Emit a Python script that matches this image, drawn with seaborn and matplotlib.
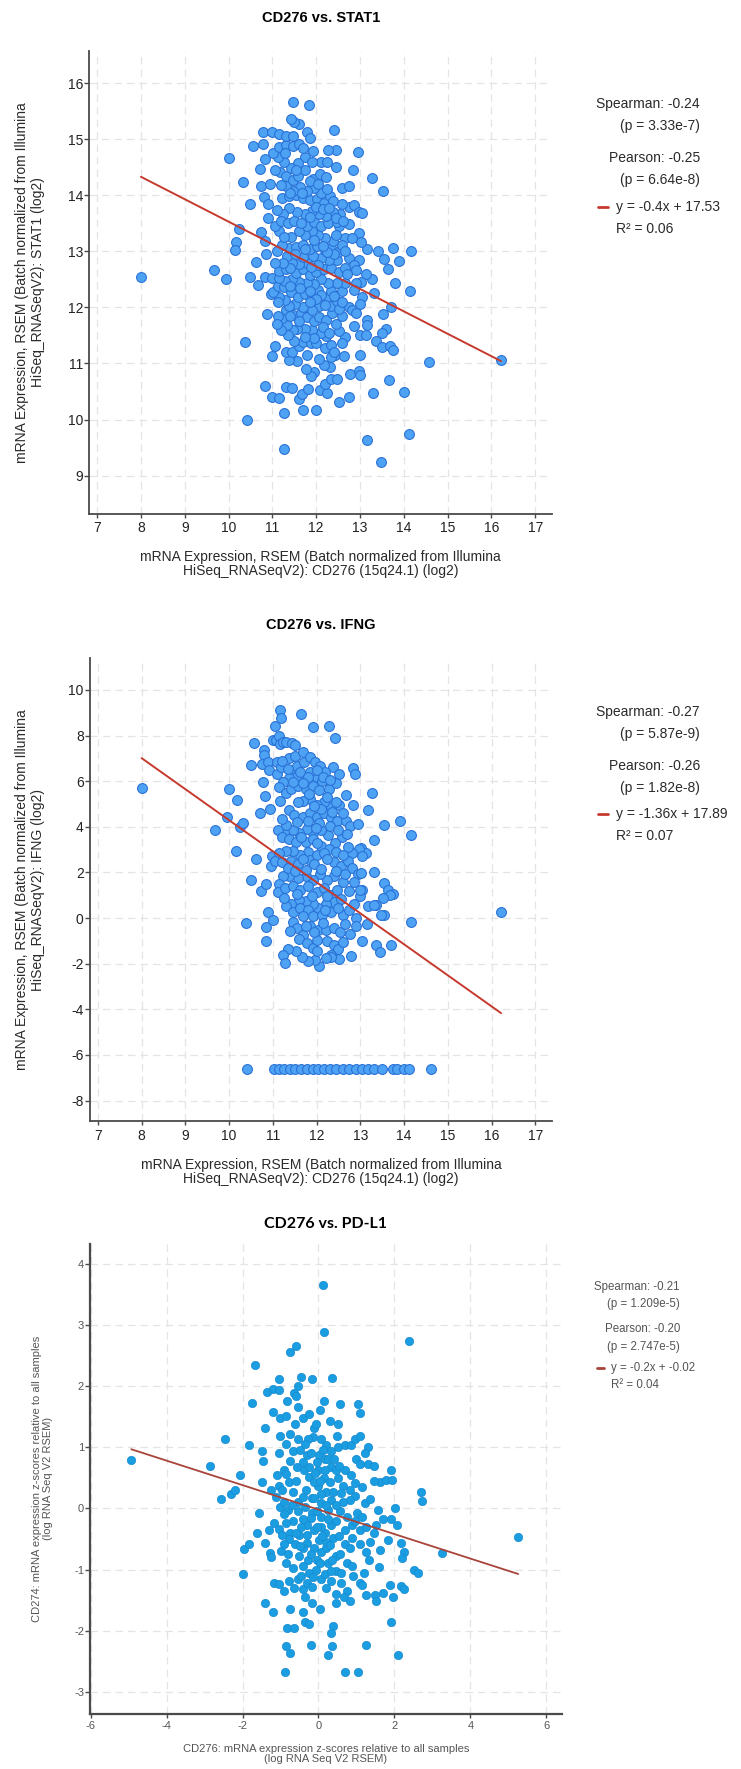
import numpy as np
import pandas as pd
import seaborn as sns
import matplotlib.pyplot as plt
from matplotlib.lines import Line2D

sns.set_style("white")
plt.rcParams['font.family'] = ['Liberation Sans', 'DejaVu Sans']
plt.rcParams['axes.unicode_minus'] = False

# ---------------- data ----------------
# CD276 vs STAT1  (x, y)
stat1_pts = [
    (8.00,12.55),(9.66,12.67),(9.93,12.50),(10.00,14.66),(10.32,14.23),(10.24,13.40),(10.18,13.17),(10.15,13.03),
    (10.50,13.84),(10.62,12.81),(10.50,12.55),(10.67,12.40),(10.37,11.38),(10.41,10.00),(10.56,14.88),(10.79,15.13),
    (10.78,14.92),(10.71,14.47),(10.75,14.17),(10.82,14.65),(10.81,13.97),(10.91,13.84),(10.75,13.35),(10.82,13.18),
    (10.86,12.95),(10.82,12.55),(10.98,12.53),(10.96,12.24),(10.88,11.88),(11.07,11.31),(11.00,11.13),(10.83,10.59),
    (11.00,10.40),(11.26,10.12),(11.27,9.48),(11.16,10.39),(11.30,10.58),(11.44,10.57),(11.60,10.36),(11.69,10.17),
    (11.67,10.46),(11.81,10.54),(12.00,10.17),(12.09,10.52),(12.24,10.48),(12.51,10.31),(12.76,10.40),(12.19,10.64),
    (12.34,10.73),(12.48,10.73),(12.78,10.81),(12.97,10.87),(13.00,10.79),(13.30,10.48),(13.15,9.64),(13.47,9.25),
    (13.67,10.71),(14.00,10.49),(14.11,9.74),(14.58,11.02),(16.22,11.06),
    (14.16,13.01),(14.15,12.30),(13.90,12.82),(13.75,13.06),(13.42,13.01),(13.54,12.87),(13.65,12.68),(13.79,12.43),
    (13.70,12.00),(13.53,11.88),(13.59,11.62),(13.50,11.55),(13.37,11.40),(13.50,11.30),(13.69,11.31),(13.75,11.24),
    (13.31,12.26),(13.28,12.50),(13.16,13.05),(13.27,14.31),(13.53,14.08),(12.95,14.78),(12.46,14.81),(12.28,14.81),
    (12.41,15.17),(12.45,14.50),(12.83,14.45),(12.60,14.13),(12.74,14.17),(12.75,13.80),(12.87,13.83),(12.98,13.70),
    (13.04,13.69),(12.74,13.48),(12.52,13.46),(12.98,13.33),(13.03,13.17),(12.66,13.24),(12.81,13.24),(12.98,12.85),
    (12.76,12.88),(12.86,12.76),(12.90,12.67),(13.13,12.60),(13.02,12.45),(12.90,12.43),(12.86,12.31),(13.05,12.19),
    (12.99,12.06),(12.74,12.00),(12.81,11.95),(12.92,11.90),(12.58,11.84),(12.86,11.67),(12.99,11.50),(13.14,11.50),
    (13.15,11.78),(13.17,11.69),(12.66,11.47),(12.58,11.37),(12.51,11.58),(12.43,11.16),(12.63,11.13),(12.99,11.16),
    (12.34,11.11),(12.32,10.93),(12.17,10.98),(12.06,11.08),(11.96,10.84),(11.89,10.77),(11.77,10.90),(11.78,11.15),
    (11.56,11.04),(11.39,11.06),(11.30,11.21),(11.44,11.20),(11.60,11.31),(11.69,11.38),(11.88,11.36),(12.00,11.37),
    (12.19,11.27),(12.34,11.33),(12.40,11.21),(12.23,11.49),(12.10,11.54),(11.91,11.60),(11.75,11.62),(11.56,11.62),
    (11.48,11.59),(11.33,11.69),(11.23,11.82),(11.13,11.85),(11.32,11.96),(11.46,11.86),(11.65,11.90),(11.80,11.83),
    (11.94,11.76),(12.07,11.83),(12.23,11.78),(12.36,11.90),(12.34,12.03),(12.48,12.11),(12.51,11.98),(12.23,12.17),
    (12.07,12.03),(11.91,11.96),(11.71,12.00),(11.52,12.06),(11.37,12.03),(11.29,12.14),(11.15,12.18),(11.02,12.27),
    (11.13,12.39),(11.26,12.36),(11.42,12.27),(11.58,12.18),(11.75,12.24),(11.91,12.20),(12.04,12.31),(12.12,12.22),
    (12.34,12.29),(12.58,12.30),(12.66,12.44),(12.48,12.44),(12.28,12.44),(12.12,12.51),(11.96,12.41),(11.78,12.44),
    (11.60,12.46),(11.44,12.50),(11.29,12.48),(11.15,12.52),(11.15,12.65),(11.31,12.68),(11.53,12.62),(11.69,12.68),
    (11.85,12.58),(11.99,12.63),(12.18,12.68),(12.34,12.71),(12.52,12.63),(12.66,12.71),(12.47,12.85),(12.29,12.84),
    (12.12,12.88),(11.93,12.92),(11.78,12.80),(11.60,12.78),(11.45,12.80),(11.34,12.91),(11.37,13.06),(11.23,13.12),
    (11.15,13.36),(11.10,13.00),(11.53,13.07),(11.69,13.11),(11.85,13.04),(12.01,13.09),(12.19,13.02),(12.34,13.06),
    (12.50,12.99),(12.58,13.12),(12.39,13.19),(12.21,13.23),(12.05,13.29),(11.91,13.36),(11.75,13.29),(11.60,13.36),
    (11.42,13.26),(11.26,13.26),(11.80,13.46),(11.96,13.53),(12.12,13.46),(12.28,13.50),(12.47,13.53),(12.55,13.67),
    (12.39,13.70),(12.23,13.63),(12.07,13.67),(11.91,13.72),(11.75,13.67),(11.56,13.70),(11.39,13.77),(11.24,13.67),
    (11.10,13.74),(11.22,13.96),(11.37,13.98),(11.53,14.01),(11.69,13.96),(11.85,13.91),(12.01,13.94),(12.17,13.87),
    (12.31,13.98),(12.39,13.89),(12.12,14.04),(11.96,14.13),(11.80,14.08),(11.64,14.15),(11.48,14.08),(11.32,14.17),
    (11.19,14.19),(11.18,14.42),(11.32,14.35),(11.46,14.28),(11.59,14.34),(11.75,14.45),(11.93,14.30),(12.08,14.38),
    (12.23,14.32),(12.10,14.59),(11.93,14.79),(11.75,14.69),(11.59,14.57),(11.42,14.49),(11.26,14.59),(11.13,14.69),
    (11.02,14.76),(11.15,14.86),(11.31,14.90),(11.47,14.88),(11.60,14.91),(11.00,15.13),(11.15,15.10),(11.31,15.06),
    (11.47,15.06),(11.60,15.27),(11.49,15.30),(11.42,15.37),(11.80,15.13),(11.86,15.02),(11.48,15.66),(11.83,15.61),
    (11.05,13.45),(11.20,13.55),(11.35,13.50),(11.50,13.55),(11.65,13.50),(11.85,13.62),(12.00,13.80),(12.15,13.75),
    (12.30,13.78),(12.45,13.60),(12.62,13.55),(12.65,13.00),(12.40,12.95),(12.25,12.98),(12.05,12.75),(11.88,12.72),
    (11.70,12.90),(11.52,12.95),(11.40,12.70),(11.25,12.80),(11.05,12.80),(11.40,12.38),(11.62,12.35),(11.85,12.30),
    (12.00,12.15),(12.20,12.05),(12.40,12.20),(12.60,12.10),(12.70,12.60),(12.15,11.65),(11.95,11.45),(11.75,11.48),
    (11.50,11.40),(11.35,11.50),(11.20,11.60),(12.45,11.70),(12.30,11.55),(11.60,11.75),(11.40,11.85),(11.85,12.10),
    (11.68,14.05),(11.85,14.25),(12.05,14.20),(12.25,14.12),(11.40,14.05),(11.55,14.45),(11.28,14.75),(11.70,14.85),
    (11.90,14.60),(12.25,14.60),(11.05,14.45),(10.95,14.20),(10.90,13.60),(11.12,12.10),(11.10,11.70),(12.45,13.30),
    (12.15,13.10),(11.95,13.20),(11.75,13.05),(12.60,13.85),
]

# CD276 vs IFNG (x, y)
ifng_pts = [
    (8.00,5.71),(9.68,3.86),(9.95,4.41),(10.00,5.67),(10.18,5.17),(10.15,2.96),(10.26,3.98),(10.32,4.18),
    (10.38,-0.21),(10.51,1.68),(10.51,6.69),(10.56,7.68),(10.62,2.58),(10.70,4.60),(10.72,1.19),(10.79,7.37),
    (10.79,7.14),(10.75,6.76),(10.77,5.95),(10.83,5.36),(10.88,6.85),(10.91,6.50),(10.94,4.77),(10.85,1.48),
    (10.85,-0.38),(10.88,0.27),(10.85,-1.02),(11.01,-0.07),(10.97,2.70),(10.96,2.26),(11.00,7.80),(11.04,8.41),
    (11.07,7.80),(11.16,9.13),(11.19,8.75),(11.15,7.98),(11.17,7.61),(11.24,7.72),(11.09,6.82),(11.10,6.33),
    (11.19,6.64),(11.31,7.72),(11.44,7.68),(11.50,7.58),(11.37,7.02),(11.51,7.11),(11.40,6.50),(11.56,6.68),
    (11.64,8.96),(11.69,7.28),(11.72,6.85),(11.86,7.06),(11.96,6.82),(11.93,8.37),(12.29,8.44),(12.42,7.91),
    (12.09,6.68),(12.37,6.63),(12.20,6.42),(12.02,6.19),(11.86,6.42),(11.69,6.19),(11.53,6.19),(11.37,6.12),
    (11.23,5.98),(11.13,5.73),(11.17,5.15),(11.29,5.50),(11.42,5.64),(11.58,5.81),(11.75,5.64),(11.91,5.78),
    (12.12,6.02),(12.29,5.64),(12.45,5.90),(12.51,6.33),(12.83,6.59),(12.88,6.33),(12.67,5.38),(12.83,4.95),
    (13.27,5.47),(13.17,4.74),(12.52,4.95),(12.34,4.86),(12.18,5.08),(12.02,4.95),(11.86,5.21),(11.69,5.15),
    (11.58,5.08),(11.38,4.74),(11.49,4.51),(11.69,4.43),(11.86,4.60),(12.00,4.43),(12.18,4.60),(12.34,4.43),
    (12.47,4.25),(12.67,4.25),(12.76,4.05),(12.94,4.12),(13.55,4.08),(13.90,4.25),(14.16,3.65),(13.31,3.44),
    (13.02,3.09),(13.12,2.83),(12.97,3.04),(13.05,2.70),(12.80,2.83),(12.72,3.13),(12.58,3.56),(12.42,3.30),
    (12.26,3.65),(12.11,3.87),(11.93,3.73),(11.78,3.91),(11.60,3.73),(11.45,3.87),(11.26,3.77),(11.11,3.84),
    (11.21,3.56),(11.37,3.48),(11.53,3.35),(11.75,3.35),(11.91,3.48),(12.11,3.18),(12.29,3.04),(11.80,2.90),
    (11.63,2.78),(11.47,2.96),(11.31,2.96),(11.15,2.87),(11.04,2.52),(11.21,2.44),(11.42,2.52),(11.58,2.35),
    (11.86,2.56),(12.02,2.78),(12.18,2.87),(12.39,2.44),(12.56,2.26),(12.72,2.52),(12.80,2.21),(12.94,1.92),
    (13.01,1.97),(13.31,2.00),(13.55,1.52),(13.64,1.23),(13.75,1.05),(13.69,1.02),(13.53,0.88),(13.37,0.57),
    (13.18,0.53),(13.04,1.22),(13.00,0.97),(12.99,1.22),(12.75,1.17),(12.61,1.57),(12.39,1.83),(12.23,1.66),
    (12.07,1.92),(11.93,1.66),(11.75,1.83),(11.58,1.74),(11.38,1.83),(11.23,1.83),(11.13,1.48),(11.12,1.14),
    (11.28,1.31),(11.45,1.40),(11.63,1.22),(11.80,1.40),(12.00,1.14),(12.18,1.31),(12.34,1.00),(12.47,1.22),
    (12.39,0.71),(12.21,0.62),(12.04,0.45),(11.91,0.62),(11.75,0.76),(11.60,0.79),(11.42,0.62),(11.31,0.53),
    (11.47,0.27),(11.63,0.45),(11.80,0.36),(11.93,0.10),(12.13,0.13),(12.34,0.27),(12.61,0.15),(12.75,0.36),
    (12.90,0.01),(13.15,-0.25),(13.31,0.59),(13.55,0.13),(13.47,0.15),(14.17,-0.19),(16.22,0.26),(11.47,-0.19),
    (11.56,-0.45),(11.69,-0.73),(11.86,-0.33),(12.04,-0.54),(12.21,-0.54),(12.40,-0.42),(12.53,-0.59),(12.77,-0.71),
    (13.04,-0.99),(13.37,-1.16),(13.45,-1.51),(13.70,-1.20),(11.60,-0.94),(11.78,-1.11),(11.93,-1.32),(12.00,-0.97),
    (12.23,-1.02),(12.39,-1.20),(12.50,-1.37),(12.34,-1.63),(12.52,-1.80),(12.79,-1.66),(12.34,-1.72),(12.21,-1.77),
    (12.05,-2.11),(11.96,-1.84),(11.80,-1.89),(11.67,-1.72),(11.53,-1.46),(11.34,-1.37),(11.24,-1.60),(11.28,-1.98),
    (12.00,-1.46),
    (11.20,6.90),(11.35,6.55),(11.62,6.40),(11.80,6.20),(12.00,6.50),(12.15,6.20),(12.30,6.05),(11.45,5.95),
    (11.68,5.90),(11.82,5.45),(12.05,5.60),(12.25,5.30),(12.45,5.10),(12.60,4.60),(12.35,4.65),(12.10,4.80),
    (11.95,4.90),(11.80,4.25),(11.55,4.20),(11.30,4.10),(11.20,4.35),(12.05,4.15),(12.30,4.05),(12.50,3.85),
    (12.70,3.70),(11.98,3.95),(11.65,3.55),(12.00,3.30),(12.45,2.90),(12.60,2.75),(12.25,2.60),(11.95,2.35),
    (11.70,2.60),(11.35,2.20),(11.50,2.05),(11.75,2.10),(12.10,2.15),(12.45,2.05),(12.65,1.95),(12.85,1.60),
    (12.55,0.85),(12.25,0.95),(11.90,0.95),(11.55,1.05),(11.25,0.90),(11.70,0.10),(12.20,0.35),(12.50,0.45),
    (12.85,0.60),(12.65,-0.25),(12.15,-0.20),(11.75,-0.35),(11.40,-0.55),(11.95,-0.60),(12.60,-1.05),(12.90,-0.35),
]
# samples sitting on the IFNG detection floor
ifng_floor_x = [10.42, 11.02, 11.13, 11.26, 11.39, 11.50, 11.64, 11.78, 11.91, 12.04, 12.18, 12.31, 12.45,
                12.61, 12.75, 12.90, 13.04, 13.18, 13.31, 13.50, 13.74, 13.83, 14.01, 14.12, 14.61]
ifng_floor_y = -6.63

# CD276 vs PD-L1 z-scores (x, y)
pdl1_pts = [
    (-4.93,0.79),(-2.87,0.70),(-2.45,1.13),(-2.56,0.16),(-2.30,0.24),(-2.21,0.30),(-2.07,0.54),(-1.83,1.03),
    (-1.76,1.73),(-1.68,2.35),(-1.95,-0.67),(-2.00,-1.07),(-1.82,-0.59),(-1.61,-0.40),(-1.57,-0.08),(-1.42,-0.56),
    (-1.48,0.43),(-1.42,-1.54),(-1.21,-1.69),(-1.27,-0.73),(-1.26,-0.79),(-1.47,0.78),(-1.50,0.94),(-1.42,1.32),
    (-1.35,1.90),(-1.20,1.95),(-1.05,1.94),(-1.21,1.57),(-1.03,2.11),(-1.02,1.48),(-0.86,1.51),(-1.02,1.18),
    (-0.86,1.06),(-1.05,0.91),(-0.92,0.62),(-1.11,0.18),(-1.02,0.02),(-1.17,-0.24),(-1.05,-0.33),(-0.95,-0.43),
    (-0.99,-0.70),(-0.86,-0.89),(-1.17,-1.22),(-1.05,-1.24),(-0.89,-2.68),(-0.86,-2.25),(-0.74,-2.37),(-0.82,-1.95),
    (-0.65,-1.95),(-0.75,-1.65),(-0.82,1.76),(-0.74,2.56),(-0.59,2.65),(-0.46,2.14),(-0.64,1.89),(-0.58,1.83),
    (-0.53,1.66),(-0.40,1.48),(-0.61,1.38),(-0.53,1.13),(-0.74,1.22),(-0.67,0.94),(-0.57,0.68),(-0.77,0.43),
    (-0.67,0.27),(-0.55,0.11),(-0.80,-0.02),(-0.67,-0.21),(-0.52,-0.43),(-0.61,-0.59),(-0.52,-0.78),(-0.67,-0.97),
    (-0.55,-1.16),(-0.77,-1.19),(-0.42,-1.32),(-0.36,-1.45),(-0.40,-1.70),(-0.36,-1.86),(-0.20,-2.23),(-0.25,-1.89),
    (-0.17,-1.54),(-0.17,2.11),(-0.15,1.16),(-0.11,1.32),(-0.27,1.13),(-0.30,0.87),(-0.39,0.62),(-0.24,0.52),
    (-0.32,0.30),(-0.17,0.17),(-0.36,0.02),(-0.17,-0.08),(-0.30,-0.27),(-0.11,-0.36),(-0.30,-0.56),(-0.11,-0.65),
    (-0.27,-0.84),(-0.07,-1.00),(0.07,-1.16),(0.05,-1.64),(0.11,3.65),(0.15,2.88),(0.14,1.75),(-0.07,1.38),
    (0.07,1.14),(0.20,1.03),(0.01,0.87),(0.17,0.81),(0.32,0.68),(-0.02,0.62),(0.14,0.49),(-0.02,0.37),
    (0.20,0.27),(0.32,0.14),(0.07,0.08),(0.26,-0.02),(0.07,-0.14),(0.32,-0.27),(0.17,-0.40),(0.39,-0.49),
    (0.20,-0.65),(0.45,-0.78),(0.26,-0.90),(0.17,-1.08),(0.32,-1.19),(0.47,-1.03),(0.60,-1.22),(0.45,-1.40),
    (0.47,-1.54),(0.39,-1.92),(0.32,-2.04),(0.36,-2.25),(0.24,-2.40),(0.70,-2.68),(1.04,-2.68),(0.36,2.13),
    (0.29,1.43),(0.51,1.38),(0.49,1.19),(0.57,1.70),(0.51,1.00),(0.70,1.03),(0.85,1.03),(0.95,1.13),
    (1.10,1.19),(1.05,1.71),(1.08,1.56),(1.30,1.00),(1.22,0.91),(1.30,0.72),(0.98,0.81),(1.08,0.72),
    (1.45,0.70),(0.70,0.62),(0.51,0.49),(0.64,0.37),(0.82,0.30),(0.95,0.21),(0.82,0.14),(1.22,0.08),
    (1.57,-0.02),(0.64,0.11),(0.57,-0.05),(0.76,-0.14),(1.01,-0.08),(1.14,-0.14),(0.89,-0.27),(0.70,-0.36),
    (1.08,-0.36),(1.26,-0.30),(1.51,-0.27),(1.45,-0.40),(1.70,-0.17),(1.92,-0.17),(2.02,0.00),(2.07,-0.27),
    (0.89,-0.49),(0.70,-0.58),(0.82,-0.65),(1.08,-0.59),(1.26,-0.71),(1.63,-0.68),(1.82,-0.52),(2.17,-0.56),
    (2.26,-0.71),(2.20,-0.81),(1.32,-0.84),(0.57,-0.75),(0.76,-0.90),(0.89,-0.94),(1.20,-1.06),(1.08,-1.22),
    (0.76,-1.35),(0.67,-1.45),(0.82,-1.51),(1.14,-1.25),(1.26,-1.41),(1.48,-1.41),(1.51,-1.51),(1.70,-1.38),
    (1.89,-1.25),(1.95,-1.45),(2.17,-1.27),(2.26,-1.32),(1.90,-1.85),(2.10,-2.39),(1.26,-2.24),(1.63,0.43),
    (1.79,0.46),(1.90,0.62),(1.93,0.46),(1.45,0.44),(2.51,-1.00),(2.63,-1.05),(2.69,0.27),(2.73,0.12),
    (2.38,2.74),(3.26,-0.73),(5.26,-0.46),
    (-0.92,0.11),(-1.05,0.37),(-0.86,0.56),(-0.74,0.78),(-0.42,0.75),(-0.24,0.68),(-0.11,0.43),(-0.42,0.18),
    (-0.55,-0.05),(-0.42,-0.17),(-0.86,-0.24),(-0.74,-0.40),(-0.42,-0.65),(-0.80,-0.75),(-0.40,-0.94),(-0.24,-1.06),
    (-0.30,-1.22),(-0.17,-1.29),(-0.05,-0.84),(0.07,-0.71),(0.01,-0.52),(0.20,-0.55),(0.07,-0.30),(0.26,-0.17),
    (0.45,0.05),(0.39,0.27),(0.30,0.43),(0.47,0.62),(0.32,0.94),(0.17,0.62),(-0.05,0.75),(0.07,0.24),
    (-0.11,0.17),(0.20,0.05),(-0.05,-0.05),(-0.30,-0.43),(0.32,-1.03),
    (-1.10,0.55),(-0.95,0.30),(-0.90,-0.10),(-0.78,-0.50),(-0.90,-0.58),(-0.70,0.05),(-0.60,0.45),(-0.48,0.95),
    (-0.35,1.05),(-0.20,0.90),(-0.10,0.58),(0.05,0.45),(0.12,0.95),(0.25,0.80),(0.40,0.80),(0.55,0.70),
    (0.60,0.25),(0.45,-0.20),(0.55,-0.45),(0.30,-0.60),(0.10,-0.45),(-0.05,-0.30),(-0.20,-0.15),(-0.45,-0.30),
    (-0.60,-0.40),(-0.48,-0.62),(-0.20,-0.75),(0.05,-0.90),(0.35,-0.85),(0.58,-1.05),(0.90,-1.10),(-0.15,-1.12),
    (-0.45,-1.10),(-0.65,-1.30),(-0.90,-1.35),(0.20,-1.30),(0.95,-0.20),(1.15,0.35),(1.35,0.15),(0.85,0.55),
    (-1.25,0.30),(-1.30,-0.35),(-0.25,1.55),(0.05,1.60),(-0.55,2.00),(1.35,-0.55),(1.60,-0.95),(0.95,0.42),
]

# correlation summaries printed next to each panel
stat1_stats = {"spearman": "-0.24", "sp_p": "3.33e-7", "pearson": "-0.25", "pe_p": "6.64e-8",
               "slope": -0.4, "intercept": 17.53, "r2": "0.06"}
ifng_stats = {"spearman": "-0.27", "sp_p": "5.87e-9", "pearson": "-0.26", "pe_p": "1.82e-8",
              "slope": -1.36, "intercept": 17.89, "r2": "0.07"}
pdl1_stats = {"spearman": "-0.21", "sp_p": "1.209e-5", "pearson": "-0.20", "pe_p": "2.747e-5",
              "slope": -0.2, "intercept": -0.02, "r2": "0.04"}

xlab_rsem = "mRNA Expression, RSEM (Batch normalized from Illumina\nHiSeq_RNASeqV2): CD276 (15q24.1) (log2)"

# ---------------- layout helpers ----------------
W, H = 741, 1769
fig = plt.figure(figsize=(W / 100, H / 100), dpi=100)


def fx(x):
    return x / W


def fy(y):
    return 1 - y / H


def draw_panel(pts, stats, title, xlabel, ylabel, box, xlim, ylim, xticks, yticks, st):
    l, t, r, b = box
    ax = fig.add_axes([fx(l), fy(b), (r - l) / W, (b - t) / H])
    df = pd.DataFrame(pts, columns=["x", "y"])
    sns.scatterplot(data=df, x="x", y="y", ax=ax, s=st["s"], color=st["fill"],
                    edgecolor=st["edge"], linewidth=st["elw"], zorder=3)
    xs = np.array([df.x.min(), df.x.max()])
    sns.lineplot(x=xs, y=stats["slope"] * xs + stats["intercept"], ax=ax,
                 color=st["red"], lw=st["rlw"], zorder=4)
    ax.set_xlim(*xlim)
    ax.set_ylim(*ylim)
    ax.set_xticks(xticks)
    ax.set_yticks(yticks)
    ax.grid(True, ls=(0, (6, 4)), color="#e4e4e4", lw=0.9)
    ax.set_axisbelow(True)
    for s in ["top", "right"]:
        ax.spines[s].set_visible(False)
    for s in ["left", "bottom"]:
        ax.spines[s].set_color("#4a4a4a")
        ax.spines[s].set_linewidth(st["spw"])
    ax.tick_params(axis="x", direction="out", length=3, width=1, color="#4a4a4a",
                   labelsize=st["tick"], labelcolor=st["tc"], pad=2.5, bottom=True)
    ax.tick_params(axis="y", direction="out", length=3.5, width=1, color="#4a4a4a",
                   labelsize=st["tick"], labelcolor=st["tc"], pad=1, left=True)
    ax.set_title(title, y=(b - st["title_y"]) / (b - t), va="center", pad=0,
                 fontsize=st["tsize"], fontweight="bold", color="black",
                 fontfamily=st["tfont"])
    ax.set_xlabel(xlabel, fontsize=st["lab"], color=st["lc"], va="center", linespacing=st["ls"])
    ax.xaxis.set_label_coords(0.5, (b - st["xlab_y"]) / (b - t))
    ax.set_ylabel(ylabel, fontsize=st["lab"], color=st["lc"], va="center", linespacing=st["yls"])
    ax.yaxis.set_label_coords((st["ylab_x"] - l) / (r - l), 0.5)

    # correlation box on the right
    lx, rows = st["leg_right"], st["leg_rows"]
    fs, c = st["leg"], st["lc"]
    fig.text(fx(lx), fy(rows[0]), f"Spearman: {stats['spearman']}", ha="right", va="center", fontsize=fs, color=c)
    fig.text(fx(lx), fy(rows[1]), f"(p = {stats['sp_p']})", ha="right", va="center", fontsize=fs, color=c)
    fig.text(fx(lx), fy(rows[2]), f"Pearson: {stats['pearson']}", ha="right", va="center", fontsize=fs, color=c)
    fig.text(fx(lx), fy(rows[3]), f"(p = {stats['pe_p']})", ha="right", va="center", fontsize=fs, color=c)
    d0, d1, tx = st["dash"]
    fig.add_artist(Line2D([fx(d0), fx(d1)], [fy(rows[4])] * 2, color=st["red"], lw=2))
    slope = f"{stats['slope']:g}"
    icpt = f"{stats['intercept']:g}" if stats["intercept"] >= 0 else f"-{abs(stats['intercept']):.2f}"
    fig.text(fx(tx), fy(rows[4]), f"y = {slope}x + {icpt}", ha="left", va="center", fontsize=fs, color=c)
    fig.text(fx(tx), fy(rows[5]), f"R² = {stats['r2']}", ha="left", va="center", fontsize=fs, color=c)
    return ax


style_rsem = {"s": 50, "fill": "#4ea2f4", "edge": "#2a72d6", "elw": 0.8, "red": "#c63a2e", "rlw": 1.4,
              "tick": 10, "tc": "#222222", "lab": 10, "lc": "#2a2a2a", "ls": 1.0, "yls": 1.15,
              "tsize": 10.5, "tfont": ["Liberation Sans", "DejaVu Sans"], "leg": 10, "leg_right": 700,
              "dash": (598, 608, 616), "spw": 1.3}

style_z = {"s": 36, "fill": "#1a9de1", "edge": "#178bd0", "elw": 0.5, "red": "#a8443a", "rlw": 1.3,
           "tick": 8, "tc": "#555555", "lab": 8, "lc": "#555555", "ls": 0.95, "yls": 1.05, "tsize": 11.5,
           "tfont": ["Lato", "DejaVu Sans"], "leg": 8.3, "leg_right": 680,
           "dash": (597, 604, 611), "spw": 1.6}

draw_panel(stat1_pts, stat1_stats, "CD276 vs. STAT1", xlab_rsem,
           "mRNA Expression, RSEM (Batch normalized from Illumina\nHiSeq_RNASeqV2): STAT1 (log2)",
           (89.3, 50.7, 552.3, 513.7), (6.82, 17.39), (8.32, 16.58), range(7, 18), range(9, 17),
           dict(style_rsem, title_y=18, xlab_y=564, ylab_x=30, leg_rows=[104, 126, 158, 180, 207, 229]))

ifng_all = ifng_pts + [(x, ifng_floor_y) for x in ifng_floor_x]
draw_panel(ifng_all, ifng_stats, "CD276 vs. IFNG", xlab_rsem,
           "mRNA Expression, RSEM (Batch normalized from Illumina\nHiSeq_RNASeqV2): IFNG (log2)",
           (90, 658, 552.3, 1121.3), (6.82, 17.39), (-8.91, 11.4), range(7, 18), range(-8, 11, 2),
           dict(style_rsem, title_y=625, xlab_y=1171.5, ylab_x=30, leg_rows=[712, 734, 766, 788, 814, 836]))

draw_panel(pdl1_pts, pdl1_stats, "CD276 vs. PD-L1",
           "CD276: mRNA expression z-scores relative to all samples\n(log RNA Seq V2 RSEM)",
           "CD274: mRNA expression z-scores relative to all samples\n(log RNA Seq V2 RSEM)",
           (90.3, 1244, 561.5, 1713.7), (-6.01, 6.4), (-3.355, 4.32), range(-6, 7, 2), range(-3, 5),
           dict(style_z, title_y=1224, xlab_y=1754, ylab_x=42.5, leg_rows=[1287, 1304, 1329, 1347, 1368, 1385]))

fig.savefig("out.png", dpi=100)
